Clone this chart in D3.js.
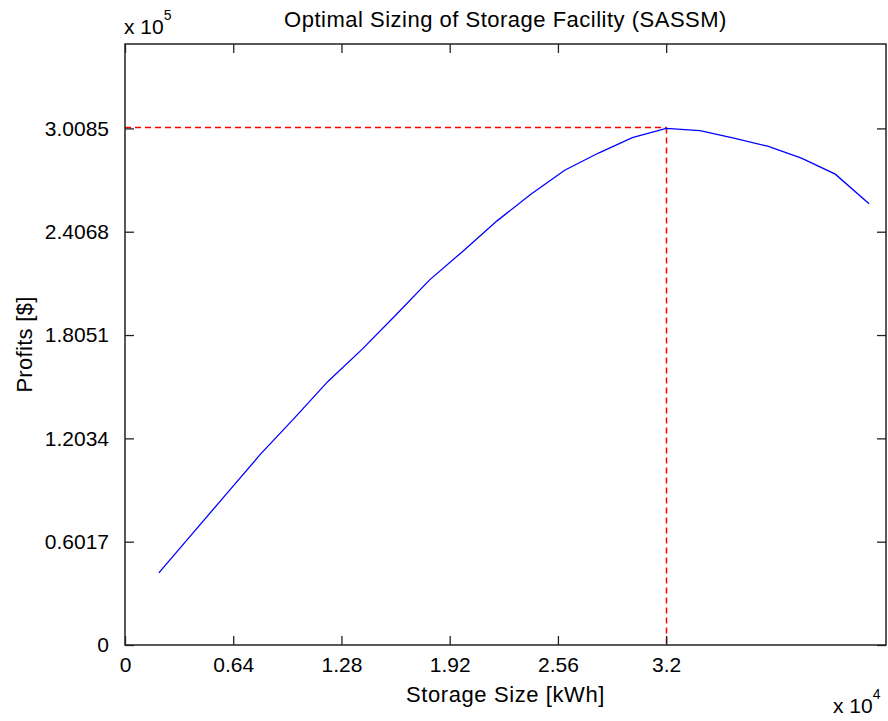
<!DOCTYPE html>
<html>
<head>
<meta charset="utf-8">
<script src="https://cdn.jsdelivr.net/npm/d3@7"></script>
<style>
  body { margin: 0; background: #fff; }
  text { font-family: "Liberation Sans", Arial, sans-serif; fill: #000; }
</style>
</head>
<body>
<div id="wrapper"></div>
<script>
// storage size (x 10^4 kWh) and profit (x 10^5 $)
const storageSize = [0.2, 0.4, 0.6, 0.8, 1.0, 1.2, 1.4, 1.6, 1.8, 2.0, 2.2,
                     2.4, 2.6, 2.8, 3.0, 3.2, 3.4, 3.6, 3.8, 4.0, 4.2, 4.4]
const profits = [0.42, 0.65, 0.88, 1.11, 1.32, 1.535, 1.72, 1.92, 2.125, 2.295, 2.47,
                 2.625, 2.765, 2.865, 2.955, 3.0085, 2.996, 2.952, 2.905, 2.835, 2.742, 2.57]

const optimum = { size: 3.2, profit: 3.0085 }

const xTicks = [0, 0.64, 1.28, 1.92, 2.56, 3.2]
const xTickLabels = ["0", "0.64", "1.28", "1.92", "2.56", "3.2"]
const yTicks = [0, 0.6017, 1.2034, 1.8051, 2.4068, 3.0085]
const yTickLabels = ["0", "0.6017", "1.2034", "1.8051", "2.4068", "3.0085"]

async function drawChart() {

  // chart dimensions
  let dimensions = {
    width: 888,
    height: 721,
    margin: {
      top: 44,
      right: 2,
      bottom: 76,
      left: 125
    }
  }
  dimensions.boundedWidth = dimensions.width - dimensions.margin.left - dimensions.margin.right
  dimensions.boundedHeight = dimensions.height - dimensions.margin.top - dimensions.margin.bottom

  const data = storageSize.map((s, i) => ({ size: s, profit: profits[i] }))

  // scales
  const xScale = d3.scaleLinear()
    .domain([0, 4.5])
    .range([0, dimensions.boundedWidth])

  const yScale = d3.scaleLinear()
    .domain([0, 3.5])
    .range([dimensions.boundedHeight, 0])

  const svg = d3.select("#wrapper").append("svg")
    .attr("width", dimensions.width)
    .attr("height", dimensions.height)

  const bounds = svg.append("g")
    .attr("transform", `translate(${dimensions.margin.left}, ${dimensions.margin.top})`)

  // axes, ticks pointing inwards (matlab style box)
  const tickLen = 9
  const xAxis = d3.axisBottom(xScale)
    .tickValues(xTicks)
    .tickFormat((d, i) => xTickLabels[i])
    .tickSizeInner(-tickLen)
    .tickSizeOuter(0)
    .tickPadding(12)

  const yAxis = d3.axisLeft(yScale)
    .tickValues(yTicks)
    .tickFormat((d, i) => yTickLabels[i])
    .tickSizeInner(-tickLen)
    .tickSizeOuter(0)
    .tickPadding(16)

  const xAxisTop = d3.axisTop(xScale)
    .tickValues(xTicks)
    .tickFormat("")
    .tickSizeInner(-tickLen)
    .tickSizeOuter(0)

  const yAxisRight = d3.axisRight(yScale)
    .tickValues(yTicks)
    .tickFormat("")
    .tickSizeInner(-tickLen)
    .tickSizeOuter(0)

  // optimum lines
  const optX = Math.round(xScale(optimum.size)) + 0.5
  const optY = Math.round(yScale(optimum.profit)) - 0.5

  bounds.append("line")
    .attr("x1", 0)
    .attr("x2", optX)
    .attr("y1", optY)
    .attr("y2", optY)
    .attr("stroke", "#ff0000")
    .attr("stroke-width", 1.5)
    .attr("stroke-dasharray", "6,4")

  bounds.append("line")
    .attr("x1", optX)
    .attr("x2", optX)
    .attr("y1", optY)
    .attr("y2", yScale(0))
    .attr("stroke", "#ff0000")
    .attr("stroke-width", 1.5)
    .attr("stroke-dasharray", "6,4")

  // profit curve
  const lineGenerator = d3.line()
    .x(d => xScale(d.size))
    .y(d => yScale(d.profit))

  bounds.append("path")
    .datum(data)
    .attr("d", lineGenerator)
    .attr("fill", "none")
    .attr("stroke", "#0000ff")
    .attr("stroke-width", 1.3)

  const styleAxis = g => {
    g.selectAll(".domain").remove()
    g.selectAll(".tick line").attr("stroke", "#222").attr("stroke-width", 1.3)
    g.selectAll(".tick text")
      .attr("font-size", 21)
      .attr("font-family", "Liberation Sans, Arial, sans-serif")
      .attr("fill", "#000")
  }

  bounds.append("g")
    .attr("transform", `translate(0, ${dimensions.boundedHeight})`)
    .call(xAxis)
    .call(styleAxis)

  bounds.append("g")
    .call(yAxis)
    .call(styleAxis)

  bounds.append("g")
    .call(xAxisTop)
    .call(styleAxis)

  bounds.append("g")
    .attr("transform", `translate(${dimensions.boundedWidth}, 0)`)
    .call(yAxisRight)
    .call(styleAxis)

  // box
  bounds.append("rect")
    .attr("width", dimensions.boundedWidth)
    .attr("height", dimensions.boundedHeight)
    .attr("fill", "none")
    .attr("stroke", "#222")
    .attr("stroke-width", 1.5)

  // title and labels
  const centerX = dimensions.boundedWidth / 2

  bounds.append("text")
    .attr("x", centerX)
    .attr("y", -17)
    .attr("text-anchor", "middle")
    .attr("font-size", 22)
    .attr("letter-spacing", 0.5)
    .text("Optimal Sizing of Storage Facility (SASSM)")

  bounds.append("text")
    .attr("x", centerX)
    .attr("y", dimensions.boundedHeight + 57)
    .attr("text-anchor", "middle")
    .attr("font-size", 22)
    .attr("letter-spacing", 0.6)
    .text("Storage Size [kWh]")

  svg.append("text")
    .attr("transform", `translate(32, ${dimensions.margin.top + dimensions.boundedHeight / 2}) rotate(-90)`)
    .attr("text-anchor", "middle")
    .attr("font-size", 22)
    .attr("letter-spacing", 0.3)
    .text("Profits [$]")

  // exponent labels
  const yExp = svg.append("text")
    .attr("x", 124)
    .attr("y", 34)
    .attr("font-size", 21)
  yExp.append("tspan").text("x 10")
  yExp.append("tspan").attr("dy", -14).attr("font-size", 14).text("5")

  const xExp = svg.append("text")
    .attr("x", 833)
    .attr("y", 713)
    .attr("font-size", 21)
  xExp.append("tspan").text("x 10")
  xExp.append("tspan").attr("dy", -14).attr("font-size", 14).text("4")
}
drawChart()
</script>
</body>
</html>
